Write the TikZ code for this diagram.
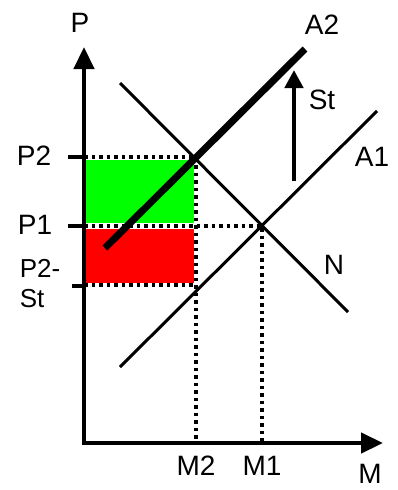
\documentclass[tikz,border=0pt]{standalone}
\usepackage{fontspec}
\setmainfont{Liberation Sans}
\usetikzlibrary{arrows.meta}

\begin{document}
\begin{tikzpicture}[
  x=1pt, y=-1pt,
  axis/.style={line width=4.5pt, line join=miter, {Triangle[width=20pt,length=22pt]}-{Triangle[width=20pt,length=22pt]}},
  curve/.style={line width=3pt},
  shifted/.style={line width=7pt},
  guide/.style={line width=3.5pt, dash pattern=on 3.5pt off 4pt},
  tick/.style={line width=4pt},
  lbl/.style={font=\fontsize{28}{30}\selectfont, inner sep=0pt}
]
  \useasboundingbox (0,0) rectangle (398,490);

  % areas
  \fill[green] (86,160) rectangle (194,223);
  \fill[red] (86,229) rectangle (194,283);

  % key points
  \coordinate (o) at (84,443);
  \coordinate (ytop) at (84,47);
  \coordinate (xend) at (383,443);
  \coordinate (e2) at (196,157);
  \coordinate (e1) at (262,226);

  % guides
  \draw[guide] (84,157) -- (e2) -- (196,443);
  \draw[guide] (84,226) -- (e1) -- (262,443);
  \draw[guide] (84,285) -- (196,285);

  % curves
  \draw[curve] (120,83) -- (348,312);
  \draw[curve] (120,367) -- (377,111);
  \draw[shifted] (105,248) -- (305,49);
  \draw[line width=4.5pt, -{Triangle[width=18pt,length=18pt]}] (294,181) -- (294,70);

  % axes
  \draw[axis] (ytop) -- (o) -- (xend);
  \draw[tick] (68,157) -- (84,157);
  \draw[tick] (68,226) -- (84,226);
  \draw[tick] (72,286) -- (84,286);

  % labels
  \node[lbl] (p) at (80,23) {P};
  \node[lbl] (m) at (370,474) {M};
  \node[lbl] (a2) at (322,25) {A2};
  \node[lbl] (a1) at (372,157) {A1};
  \node[lbl] (st) at (322,100) {St};
  \node[lbl] (n) at (334,265) {N};
  \node[lbl] (p2) at (34,156) {P2};
  \node[lbl] (p1) at (35,225) {P1};
  \node[lbl, align=left, font=\fontsize{26}{30}\selectfont] (p2st) at (40,284) {P2-\\St};
  \node[lbl] (m2) at (196,466) {M2};
  \node[lbl] (m1) at (262,466) {M1};
\end{tikzpicture}
\end{document}
